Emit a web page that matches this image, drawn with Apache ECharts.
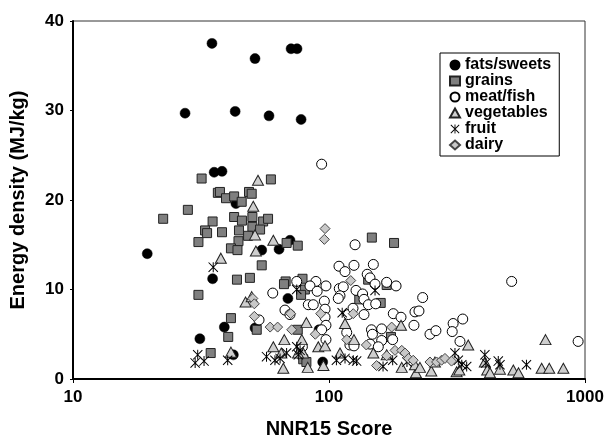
<!DOCTYPE html>
<html>
<head>
<meta charset="UTF-8">
<title>Energy density vs NNR15 score</title>
<script src="https://cdn.jsdelivr.net/npm/echarts@6/dist/echarts.min.js"></script>
<style>
  body { margin: 0; background: #fff; }
  #chart { width: 608px; height: 439px; }
</style>
</head>
<body>
<div id="chart"></div>
<script>
// [NNR15 score, energy density MJ/kg]
const fatsSweets = [
  [19.5,14.0],[27.4,29.7],[34.9,37.5],[35.6,23.1],[38.2,23.2],[43.0,29.9],[51.4,35.8],
  [58.3,29.4],[77.8,29.0],[71.1,36.9],[75.0,36.9],[43.3,19.6],[35.1,11.2],[31.3,4.5],
  [39.0,5.8],[42.3,2.7],[51.4,5.7],[54.6,14.4],[63.8,14.5],[70.4,15.5],[69.1,9.0],
  [91.4,5.5],[94.5,1.9]
];
const grains = [
  [31.8,22.4],[22.5,17.9],[28.1,18.9],[36.8,20.8],[37.5,20.9],[39.6,20.2],[42.6,20.4],
  [45.6,19.8],[48.7,20.9],[49.9,20.7],[59.3,22.3],[35.1,17.6],[42.6,18.1],[45.7,17.7],
  [50.2,18.1],[55.3,17.6],[57.8,17.9],[32.8,16.6],[33.4,16.3],[38.2,16.4],[44.5,16.6],
  [50.2,17.0],[53.8,16.7],[48.3,16.0],[30.9,15.3],[44.3,15.4],[41.4,14.6],[43.9,14.4],
  [68.3,15.2],[75.5,14.9],[54.6,12.7],[43.7,11.1],[49.1,11.3],[67.7,10.9],[66.7,10.6],
  [78.8,11.2],[80.5,10.0],[77.8,9.4],[30.9,9.4],[41.4,6.8],[40.4,4.7],[34.5,2.9],
  [52.2,5.5],[75.5,5.5],[79.3,2.2],[81.6,1.9],[147.0,15.8],[179.5,15.2],[142.2,11.1],
  [168.0,10.5],[131.3,8.9],[159.2,8.5],[174.6,4.7]
];
const meatFish = [
  [93.6,24.0],[126.4,15.0],[109.4,12.6],[115.5,12.0],[125.2,12.7],[149.0,12.8],[141.0,11.7],
  [144.6,11.3],[151.3,10.6],[168.0,10.8],[182.8,10.4],[88.9,10.9],[97.3,10.4],[84.3,10.4],
  [89.9,9.8],[74.8,10.9],[60.3,9.6],[67.3,7.7],[83.0,8.3],[86.8,8.3],[95.9,8.7],[96.5,7.8],
  [109.7,10.1],[113.7,10.3],[110.4,9.3],[108.7,9.0],[127.5,9.9],[135.3,9.5],[137.0,8.9],
  [142.5,8.3],[152.2,8.4],[119.0,7.2],[137.0,7.2],[96.5,6.9],[97.3,6.0],[93.6,5.5],
  [97.3,4.4],[117.3,5.2],[120.7,3.8],[125.2,3.7],[144.6,3.9],[146.5,5.5],[147.8,5.0],
  [160.6,5.6],[178.3,7.3],[191.1,6.9],[216.7,7.5],[224.6,7.6],[232.2,9.1],[248.0,5.0],
  [261.6,5.4],[177.3,4.4],[160.6,4.3],[155.8,3.6],[53.3,6.6],[78.7,3.6],[124.1,7.9],
  [214.7,6.0],[305.4,6.2],[333.0,6.7],[302.9,5.3],[324.8,4.2],[517,10.9],[940,4.2],[70.4,7.2]
];
const vegetables = [
  [52.8,22.2],[50.6,19.3],[51.4,16.1],[51.8,14.3],[37.8,13.5],[47.2,8.6],[41.4,3.0],
  [60.6,15.5],[49.9,9.2],[81.6,6.3],[66.9,4.4],[60.6,3.6],[78.3,4.4],[90.8,3.6],[96.5,3.7],
  [65.1,2.9],[66.3,1.2],[79.3,2.9],[82.6,1.3],[95.1,1.5],[110.4,2.9],[115.5,6.2],[125.2,4.4],
  [149.0,2.9],[191.1,6.0],[168.0,2.7],[192.4,1.3],[218.6,0.7],[251.0,0.9],[216.7,1.6],
  [75.7,2.9],[259.3,1.9],[349.8,3.8],[226.6,1.3],[315.2,0.8],[322.9,1.0],[406.2,1.9],
  [414.9,1.0],[425.4,0.7],[465.4,1.1],[524.8,1.0],[549.7,0.7],[701,4.4],[677,1.2],
  [725,1.2],[823,1.2]
];
const fruit = [
  [35.3,12.5],[30.7,2.7],[30.0,1.8],[32.5,2.0],[40.2,2.1],[74.8,10.0],[57.0,2.5],[61.5,2.1],
  [64.4,2.3],[68.3,2.9],[74.8,3.6],[77.1,3.2],[75.9,2.7],[106.9,2.1],[115.5,2.3],[124.4,2.1],
  [128.2,2.0],[112.6,7.4],[151.3,9.9],[162.6,1.4],[177.3,2.1],[201.6,1.9],[310.5,2.9],
  [320.0,2.1],[330.0,1.6],[345.0,1.4],[406.2,2.7],[410.0,1.8],[458.4,2.0],[465.4,1.6],
  [590.6,1.6]
];
const dairy = [
  [50.4,9.0],[51.1,8.4],[51.1,7.0],[96.5,16.8],[95.9,15.6],[121.6,11.0],[58.9,5.8],[63.0,5.8],
  [71.5,5.5],[70.8,7.3],[92.8,7.3],[88.4,5.0],[117.3,4.4],[124.4,7.3],[139.9,3.8],[175.7,5.8],
  [181.1,3.2],[153.4,1.5],[168.0,2.6],[192.4,3.2],[198.2,2.9],[204.3,2.3],[213.3,2.1],
  [248.0,1.9],[263.2,1.9],[275.3,2.1],[283.8,2.3],[301.0,2.0]
];

const FONT = 'Liberation Sans, Arial, sans-serif';
// asterisk: vertical bar plus two diagonals
const asterisk = 'path://M9 0L11 0L11 20L9 20Z M0 1.4L1.4 0L20 18.6L18.6 20Z M18.6 0L20 1.4L1.4 20L0 18.6Z';

const chart = echarts.init(document.getElementById('chart'));
chart.setOption({
  animation: false,
  backgroundColor: '#fff',
  grid: { left: 73, right: 23, top: 21, bottom: 60, outerBoundsMode: 'none', containLabel: false,
    show: true, borderColor: '#333', borderWidth: 1 },
  legend: {
    orient: 'vertical', left: 440, top: 53,
    padding: [4, 8, 3, 9],
    itemWidth: 10, itemHeight: 9, itemGap: 0,
    borderColor: '#000', borderWidth: 1, backgroundColor: '#fff',
    textStyle: { fontFamily: FONT, fontWeight: 'bold', fontSize: 16, color: '#000', lineHeight: 15 },
    data: ['fats/sweets', 'grains', 'meat/fish', 'vegetables', 'fruit', 'dairy']
  },
  xAxis: {
    type: 'log', logBase: 10, min: 10, max: 1000,
    name: 'NNR15 Score', nameLocation: 'middle', nameGap: 40,
    nameTextStyle: { fontFamily: FONT, fontWeight: 'bold', fontSize: 20, color: '#000' },
    axisLine: { lineStyle: { color: '#000', width: 2 } },
    axisTick: { show: true, length: 4, lineStyle: { color: '#000', width: 1 } },
    minorTick: { show: false },
    splitLine: { show: false },
    axisLabel: { fontFamily: FONT, fontWeight: 'bold', fontSize: 17, color: '#000', margin: 10,
      formatter: v => String(Math.round(v)) }
  },
  yAxis: {
    type: 'value', min: 0, max: 40, interval: 10,
    name: 'Energy density (MJ/kg)', nameLocation: 'middle', nameGap: 45,
    nameTextStyle: { fontFamily: FONT, fontWeight: 'bold', fontSize: 20, color: '#000' },
    axisLine: { show: true, lineStyle: { color: '#000', width: 2 } },
    axisTick: { show: true, length: 3, lineStyle: { color: '#000', width: 1 } },
    splitLine: { show: false },
    axisLabel: { fontFamily: FONT, fontWeight: 'bold', fontSize: 17, color: '#000', margin: 9 }
  },
  series: [
    { name: 'fats/sweets', type: 'scatter', data: fatsSweets, symbol: 'circle', symbolSize: 10,
      itemStyle: { color: '#000', borderColor: '#000', borderWidth: 0.5, opacity: 1 } },
    { name: 'grains', type: 'scatter', data: grains, symbol: 'rect', symbolSize: 9,
      itemStyle: { color: '#7f7f7f', borderColor: '#222', borderWidth: 1, opacity: 1 } },
    { name: 'meat/fish', type: 'scatter', data: meatFish, symbol: 'circle', symbolSize: 10,
      itemStyle: { color: '#fff', borderColor: '#000', borderWidth: 1, opacity: 1 } },
    { name: 'vegetables', type: 'scatter', data: vegetables, symbol: 'triangle', symbolSize: [11, 10],
      itemStyle: { color: '#cfcfcf', borderColor: '#222', borderWidth: 1, opacity: 1 } },
    { name: 'fruit', type: 'scatter', data: fruit, symbol: asterisk, symbolSize: 10,
      itemStyle: { color: '#000', opacity: 1 } },
    { name: 'dairy', type: 'scatter', data: dairy, symbol: 'diamond', symbolSize: 10,
      itemStyle: { color: '#c8c8c8', borderColor: '#444', borderWidth: 1, opacity: 1 } }
  ]
});
</script>
</body>
</html>
